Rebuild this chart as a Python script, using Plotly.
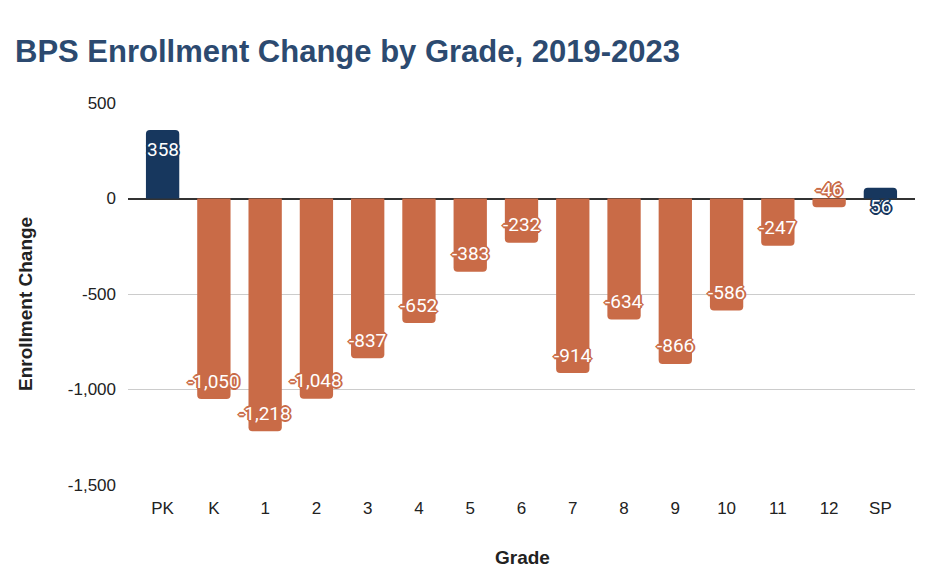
import plotly.graph_objects as go

grades = ["PK", "K", "1", "2", "3", "4", "5", "6", "7", "8", "9", "10", "11", "12", "SP"]
changes = [358, -1050, -1218, -1048, -837, -652, -383, -232, -914, -634, -866, -586, -247, -46, 56]
y_ticks = [500, 0, -500, -1000, -1500]
y_tick_text = ["500", "0", "-500", "-1,000", "-1,500"]

NAVY = "#17375e"
ORANGE = "#c96b47"
colors = [NAVY if g in ("PK", "SP") else ORANGE for g in grades]

OFF = 8  # page body margin
W, H = 948, 578
L, R, T, B = 128 - OFF, 33 + OFF, 103 - OFF, 93 + OFF
pw = W - L - R
ph = H - T - B

fig = go.Figure()
fig.add_trace(go.Bar(
    x=grades, y=changes, marker=dict(color=colors, line=dict(width=0)),
    width=0.65, hoverinfo="x+y",
))

def outline(c):
    offs = [(-1, -1), (1, -1), (-1, 1), (1, 1), (0, 1), (0, -1), (1, 0), (-1, 0),
            (2, 0), (-2, 0), (0, 2), (0, -2)]
    return ", ".join(f"{dx}px {dy}px 0 {c}" for dx, dy in offs)

annotations = []
for i, (v, c) in enumerate(zip(changes, colors)):
    annotations.append(dict(
        x=i, y=v, xref="x", yref="y", text=f"{v:,}", showarrow=False,
        yshift=-19 if v > 0 else 18,
        font=dict(family="Roboto, Arial, sans-serif", size=19, color="white",
                  shadow=outline(c)),
    ))

tick_font = dict(family="Arial, Liberation Sans, sans-serif", size=17, color="#222222")
title_font = dict(family="Arial, Liberation Sans, sans-serif", size=19, color="#222222")

annotations.append(dict(
    text="<b>Enrollment Change</b>", xref="paper", yref="paper",
    x=(25 - OFF - L) / pw, y=(H - B - (304 - OFF)) / ph, textangle=-90, showarrow=False,
    xanchor="center", yanchor="middle",
    font=title_font,
))
annotations.append(dict(
    text="<b>Grade</b>", xref="paper", yref="paper",
    x=(522 - OFF - L) / pw, y=(H - B - (557 - OFF)) / ph, showarrow=False,
    xanchor="center", yanchor="middle",
    font=title_font,
))

fig.update_layout(
    width=W, height=H,
    margin=dict(l=L, r=R, t=T, b=B),
    paper_bgcolor="white", plot_bgcolor="white",
    barcornerradius=4,
    showlegend=False,
    title=dict(
        text="<b>BPS Enrollment Change by Grade, 2019-2023</b>",
        xref="container", yref="container", x=(15 - OFF) / W, y=1 - (51 - OFF) / H,
        xanchor="left", yanchor="middle",
        font=dict(family="Arial, Liberation Sans, sans-serif", size=31, color="#2c4a70"),
    ),
    xaxis=dict(
        type="category", range=[-0.675, 14.675],
        showgrid=False, showline=False, zeroline=False, ticks="",
        tickfont=tick_font,
        ticklabelstandoff=11,
    ),
    yaxis=dict(
        range=[-1500, 500], tickvals=y_ticks, ticktext=y_tick_text,
        showgrid=True, gridcolor="#cccccc", gridwidth=1,
        zeroline=True, zerolinecolor="#333333", zerolinewidth=1.5,
        showline=False, ticks="",
        tickfont=tick_font,
        ticklabelstandoff=11,
    ),
    annotations=annotations,
)

fig.write_html("out.html")
